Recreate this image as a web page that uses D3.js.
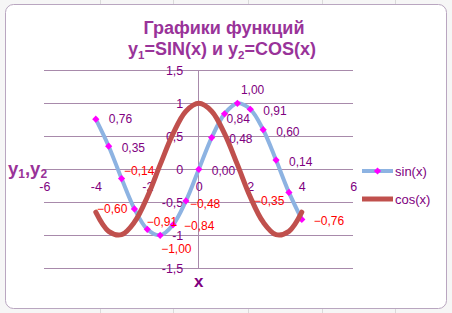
<!DOCTYPE html>
<html><head><meta charset="utf-8">
<script src="https://cdnjs.cloudflare.com/ajax/libs/d3/7.8.5/d3.min.js"></script>
<style>html,body{margin:0;padding:0;background:#fff;}svg{display:block;}</style>
</head><body>
<svg id="c" width="452" height="313"></svg>
<script>
const xValues = [-4,-3.5,-3,-2.5,-2,-1.5,-1,-0.5,0,0.5,1,1.5,2,2.5,3,3.5,4];
const sinValues = [0.76,0.35,-0.14,-0.60,-0.91,-1.00,-0.84,-0.48,0.00,0.48,0.84,1.00,0.91,0.60,0.14,-0.35,-0.76];
const cosValues = [-0.65,-0.94,-0.99,-0.80,-0.42,0.07,0.54,0.88,1.00,0.88,0.54,0.07,-0.42,-0.80,-0.99,-0.94,-0.65];
const xTicks = [-6,-4,-2,0,2,4,6];
const yTicks = [-1.5,-1,-0.5,0,0.5,1,1.5];
const seriesNames = ["sin(x)","cos(x)"];
// label placement (Excel-style manual label positions): [dx, dy, anchor]
const labelPlacement = [[13,0,"start"],[13,1.5,"start"],[2.5,-8,"start"],[-7,0,"end"],[-0.5,-7.5,"start"],
  [1,13,"start"],[11,1,"start"],[4,2.5,"start"],[13,1.5,"start"],[17.5,1.5,"start"],[2,5,"start"],
  [3.5,-13.5,"start"],[13,1.5,"start"],[13,2,"start"],[13,1.5,"start"],[-4.5,8,"end"],[12,1.5,"start"]];

const svg = d3.select("#c");
const F = "'Liberation Sans', Arial, sans-serif";
const purple = "#800080", titleCol = "#993399", red = "#ff0000", grid = "#a88aab";
const fmt = v => d3.format(".2f")(v).replace(".", ",").replace("-0,00","0,00");
const tfmt = v => String(v).replace(".", ",");

// spreadsheet background
const bg = svg.append("g");
bg.append("rect").attr("width",452).attr("height",313).attr("fill","#f6f6f6");
[100,173,248,322,395].forEach(x=>bg.append("line").attr("x1",x+.5).attr("x2",x+.5).attr("y1",0).attr("y2",313).attr("stroke","#dadada"));
bg.append("rect").attr("x",5.5).attr("y",4.5).attr("width",441).attr("height",304).attr("rx",8)
  .attr("fill","#fff").attr("stroke","#b9a6c0").attr("stroke-width",1);

const x = d3.scaleLinear([-6,6],[44.3,353.3]);
const y = d3.scaleLinear([-1.5,1.5],[268.3,70.3]);

// gridlines
const gridAxis = d3.axisRight(y).tickValues(yTicks).tickSize(x(6)-x(-6)).tickFormat("");
const gg = svg.append("g").attr("transform",`translate(${x(-6)},0)`).call(gridAxis);
gg.select(".domain").remove();
gg.selectAll("line").attr("stroke",grid).attr("stroke-width",1).attr("shape-rendering","crispEdges");

// vertical axis line
svg.append("line").attr("x1",x(0)).attr("x2",x(0)).attr("y1",y(1.5)).attr("y2",y(-1.5))
  .attr("stroke",grid).attr("stroke-width",1).attr("shape-rendering","crispEdges");

// y tick labels
const ya = d3.axisLeft(y).tickValues(yTicks).tickSize(0).tickPadding(0).tickFormat(tfmt);
const yg = svg.append("g").attr("transform",`translate(${x(0)-15.5},0)`).call(ya);
yg.select(".domain").remove();
yg.selectAll("text").attr("fill",purple).attr("font-family",F).attr("font-size",12.5);

// x tick labels
const xa = d3.axisBottom(x).tickValues(xTicks).tickSize(0).tickPadding(0).tickFormat(tfmt);
const xg = svg.append("g").attr("transform",`translate(0,${y(0)+13})`).call(xa);
xg.select(".domain").remove();
xg.selectAll("text").attr("fill",purple).attr("font-family",F).attr("font-size",12.5);

const pts = xValues.map((xv,i)=>({x:xv, s:sinValues[i], c:cosValues[i], p:labelPlacement[i]}));
const curve = d3.curveCatmullRom.alpha(0.5);
const sinLine = d3.line().x(d=>x(d.x)).y(d=>y(d.s)).curve(curve);
const cosLine = d3.line().x(d=>x(d.x)).y(d=>y(d.c)).curve(curve);

svg.append("path").attr("d",sinLine(pts)).attr("fill","none").attr("stroke","#8db3e2").attr("stroke-width",4).attr("stroke-linecap","round");
const diamond = d3.symbol().type(d3.symbolSquare).size(26);
svg.append("g").selectAll("path").data(pts).join("path")
  .attr("d",diamond).attr("transform",d=>`translate(${x(d.x)},${y(d.s)}) rotate(45)`).attr("fill","#ff00ff");
svg.append("path").attr("d",cosLine(pts)).attr("fill","none").attr("stroke","#c0504d").attr("stroke-width",5).attr("stroke-linecap","round");

// data labels
svg.append("g").selectAll("text").data(pts).join("text")
  .attr("x",d=>x(d.x)+d.p[0]).attr("y",d=>y(d.s)+d.p[1]).attr("dy","0.36em")
  .attr("text-anchor",d=>d.p[2]).attr("font-family",F).attr("font-size",12)
  .attr("fill",d=>d.s<0?red:purple).text(d=>fmt(d.s));

// title
const t = svg.append("text").attr("x",224).attr("text-anchor","middle").attr("font-family",F)
  .attr("font-weight","bold").attr("font-size",18).attr("fill",titleCol);
t.append("tspan").attr("x",224).attr("y",34).text("Графики функций");
const t2 = t.append("tspan").attr("x",222).attr("y",55);
t2.append("tspan").text("y");
t2.append("tspan").attr("font-size",11.5).attr("dy",4).text("1");
t2.append("tspan").attr("dy",-4).text("=SIN(x) и y");
t2.append("tspan").attr("font-size",11.5).attr("dy",4).text("2");
t2.append("tspan").attr("dy",-4).text("=COS(x)");

// axis titles
const yt = svg.append("text").attr("x",8).attr("y",175).attr("font-family",F).attr("font-weight","bold")
  .attr("font-size",18.5).attr("fill",titleCol);
yt.append("tspan").text("y");
yt.append("tspan").attr("font-size",12).attr("dy",3).text("1");
yt.append("tspan").attr("dy",-3).text(",y");
yt.append("tspan").attr("font-size",12).attr("dy",3).text("2");
svg.append("text").attr("x",x(0)).attr("y",287).attr("text-anchor","middle").attr("font-family",F)
  .attr("font-weight","bold").attr("font-size",17).attr("fill",purple).text("x");

// legend
const lg = svg.append("g");
const legY = [171,199];
lg.append("line").attr("x1",362).attr("x2",393).attr("y1",legY[0]).attr("y2",legY[0]).attr("stroke","#8db3e2").attr("stroke-width",4);
lg.append("path").attr("d",diamond).attr("transform",`translate(377.5,${legY[0]}) rotate(45)`).attr("fill","#ff00ff");
lg.append("line").attr("x1",362).attr("x2",393).attr("y1",legY[1]).attr("y2",legY[1]).attr("stroke","#c0504d").attr("stroke-width",5);
lg.selectAll("text").data(seriesNames).join("text").attr("x",395).attr("y",(d,i)=>legY[i]).attr("dy","0.36em")
  .attr("font-family",F).attr("font-size",13).attr("fill",purple).text(d=>d);
</script>
</body></html>
